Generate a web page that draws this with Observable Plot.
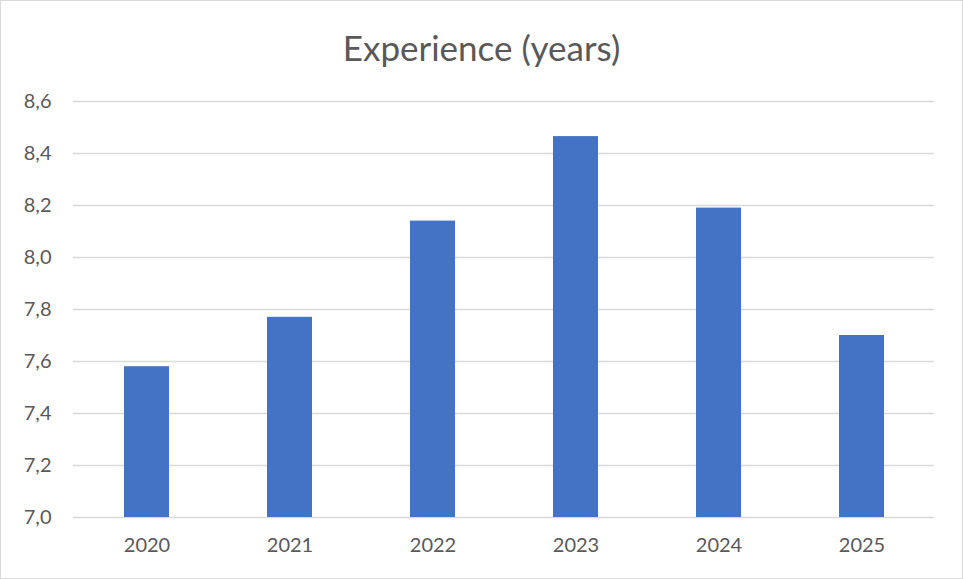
<!DOCTYPE html>
<html>
<head>
<meta charset="utf-8">
<script src="https://cdn.jsdelivr.net/npm/d3@7"></script>
<script src="https://cdn.jsdelivr.net/npm/@observablehq/plot@0.6"></script>
<style>
  html, body { margin: 0; padding: 0; background: #fff; }
  #chart { width: 963px; height: 579px; box-sizing: border-box; border: 1px solid #d9d9d9; background: #fff; overflow: hidden; }
  #title { height: 79px; line-height: 92px; text-align: center; font-family: Lato, sans-serif; font-size: 35px; color: #595959; }
</style>
</head>
<body>
<div id="chart">
  <div id="title">Experience (years)</div>
</div>
<script>
const years = ["2020", "2021", "2022", "2023", "2024", "2025"];
const values = [7.58, 7.77, 8.14, 8.465, 8.19, 7.70];
const yTicks = [7.0, 7.2, 7.4, 7.6, 7.8, 8.0, 8.2, 8.4, 8.6];

const data = years.map((year, i) => ({year, value: values[i]}));
const fmt = d => d3.format(".1f")(d).replace(".", ",");

const plot = Plot.plot({
  width: 961,
  height: 498,
  marginLeft: 72,
  marginRight: 28,
  marginTop: 21,
  marginBottom: 61,
  style: {fontFamily: "Lato, sans-serif", fontSize: "20px", color: "#595959", background: "#fff"},
  x: {domain: years, paddingInner: 0.686, paddingOuter: 0.343, label: null, tickSize: 0, tickPadding: 20},
  y: {domain: [7.0, 8.6], ticks: yTicks, tickFormat: fmt, label: null, tickSize: 0, tickPadding: 22},
  marks: [
    Plot.ruleY(yTicks, {stroke: "#d9d9d9", strokeWidth: 1.5}),
    Plot.barY(data, {x: "year", y1: 7, y2: "value", fill: "#4472c4"})
  ]
});
document.getElementById("chart").appendChild(plot);
</script>
</body>
</html>
